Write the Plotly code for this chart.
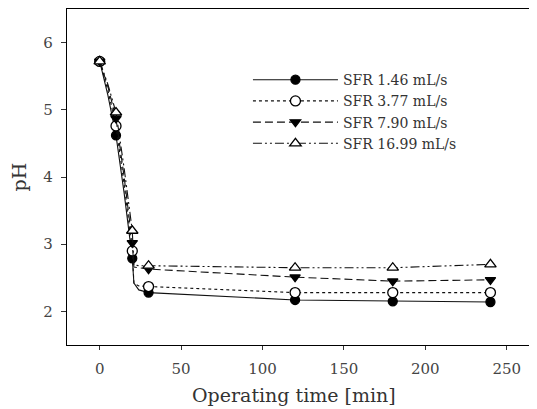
import plotly.graph_objects as go

# measured points (markers)
TIME = [0, 10, 20, 30, 120, 180, 240]
PH_146 = [5.72, 4.62, 2.79, 2.28, 2.17, 2.15, 2.14]
PH_377 = [5.72, 4.76, 2.90, 2.37, 2.28, 2.28, 2.28]
PH_790 = [5.72, 4.87, 3.02, 2.63, 2.51, 2.45, 2.47]
PH_1699 = [5.72, 4.96, 3.20, 2.68, 2.65, 2.65, 2.70]

# fitted curves drawn through the points
CURVE_TIME = [0, 5, 10, 15, 20, 21, 24, 30, 120, 180, 240]
CURVE_146 = [5.72, 5.22, 4.62, 3.76, 2.79, 2.42, 2.32, 2.28, 2.17, 2.15, 2.14]
CURVE_377 = [5.72, 5.29, 4.76, 3.89, 2.90, 2.42, 2.38, 2.37, 2.28, 2.28, 2.28]
CURVE_790 = [5.72, 5.35, 4.87, 4.00, 3.02, 2.66, 2.65, 2.63, 2.51, 2.45, 2.47]
CURVE_1699 = [5.72, 5.38, 4.96, 4.13, 3.20, 2.69, 2.68, 2.68, 2.65, 2.65, 2.70]

NAMES = ["SFR 1.46 mL/s", "SFR 3.77 mL/s", "SFR 7.90 mL/s", "SFR 16.99 mL/s"]
X_TICKS = [0, 50, 100, 150, 200, 250]
Y_TICKS = [2, 3, 4, 5, 6]

FONT = "DejaVu Serif"

series = [
    (PH_146, CURVE_146, "solid", "circle"),
    (PH_377, CURVE_377, "dot", "circle-open"),
    (PH_790, CURVE_790, "8px,4px", "triangle-down"),
    (PH_1699, CURVE_1699, "9px,3px,2px,3px,2px,3px", "triangle-up-open"),
]

fig = go.Figure()
for name, (pts, curve, dash, symbol) in zip(NAMES, series):
    line = dict(color="#111", width=1.1, dash=dash)
    if symbol.endswith("open"):
        marker = dict(symbol=symbol.replace("-open", ""), size=10, color="white",
                      line=dict(color="black", width=1.3))
    else:
        marker = dict(symbol=symbol, size=9, color="black",
                      line=dict(color="black", width=1.3))
    fig.add_trace(go.Scatter(x=CURVE_TIME, y=curve, mode="lines", line=line,
                             showlegend=False, hoverinfo="skip"))
    fig.add_trace(go.Scatter(x=TIME, y=pts, mode="markers", marker=marker,
                             showlegend=False))
    # legend-only entry (line + marker)
    fig.add_trace(go.Scatter(x=[None], y=[None], mode="lines+markers", name=name,
                             line=line, marker=marker))

# page body has an 8px margin, so the figure is shrunk by that much
fig.update_layout(
    width=529,
    height=401,
    margin=dict(l=59, r=0, t=1, b=64),
    paper_bgcolor="white",
    plot_bgcolor="white",
    font=dict(family=FONT, color="#333", size=14),
    legend=dict(
        x=0.385, y=0.836, xanchor="left", yanchor="top",
        bgcolor="rgba(0,0,0,0)", font=dict(family=FONT, size=14, color="#333"),
        itemwidth=85, tracegroupgap=0,
    ),
    xaxis=dict(
        range=[-20.1, 268.6],
        tickvals=X_TICKS,
        ticks="outside", ticklen=4, tickcolor="#333",
        showline=True, linecolor="black", linewidth=1.2, mirror=True,
        showgrid=False, zeroline=False, automargin=False,
        tickfont=dict(size=15, color="#444"), ticklabelstandoff=6,
    ),
    yaxis=dict(
        range=[1.5, 6.5],
        tickvals=Y_TICKS,
        ticks="outside", ticklen=5, tickcolor="#333",
        showline=True, linecolor="black", linewidth=1.2, mirror=False,
        showgrid=False, zeroline=False, automargin=False,
        tickfont=dict(size=15, color="#444"), ticklabelstandoff=5,
        title=dict(text="pH", font=dict(size=19, color="#333"), standoff=14),
    ),
    annotations=[dict(
        text="Operating time [min]", xref="paper", yref="paper",
        x=0.482, y=-0.149, xanchor="center", yanchor="middle",
        showarrow=False, font=dict(family=FONT, size=19, color="#333"),
    )],
)

fig.write_html("out.html")
